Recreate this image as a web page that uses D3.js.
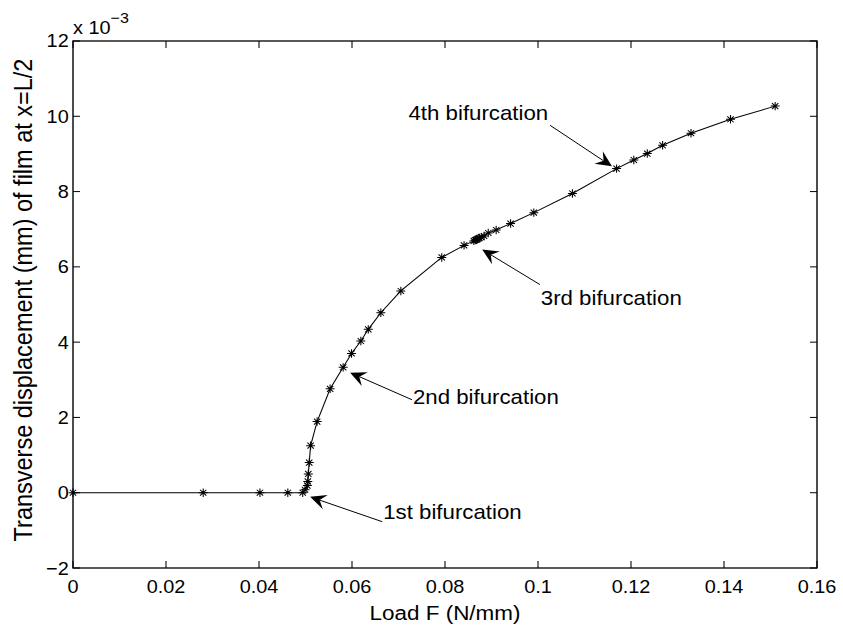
<!DOCTYPE html>
<html>
<head>
<meta charset="utf-8">
<script src="https://cdn.jsdelivr.net/npm/d3@7/dist/d3.min.js"></script>
<style>
  html, body { margin: 0; padding: 0; background: #fff; }
  svg { display: block; }
  text { font-family: "Liberation Sans", Arial, Helvetica, sans-serif; fill: #000; }
</style>
</head>
<body>
<svg id="chart" width="843" height="628"></svg>
<script>
// Load F (N/mm) at each computed equilibrium point
const loadF = [0, 0.0280, 0.0402, 0.0462, 0.0494, 0.0499, 0.0504, 0.0505, 0.0506, 0.0508,
  0.0511, 0.0525, 0.0553, 0.0581, 0.0599, 0.0619, 0.0635, 0.0662, 0.0705, 0.0793,
  0.0841, 0.0862, 0.0865, 0.0867, 0.0869, 0.0871, 0.0874, 0.0878, 0.0884, 0.0893,
  0.0910, 0.0941, 0.0991, 0.1074, 0.1169, 0.1206, 0.1235, 0.1268, 0.1329, 0.1414, 0.1510];
// Transverse displacement at x = L/2, in units of 1e-3 mm
const displacement = [0, 0, 0, 0, 0, 0.08, 0.19, 0.30, 0.50, 0.80,
  1.25, 1.89, 2.76, 3.33, 3.70, 4.03, 4.34, 4.78, 5.36, 6.25,
  6.57, 6.69, 6.71, 6.72, 6.73, 6.75, 6.77, 6.79, 6.82, 6.90,
  6.98, 7.15, 7.44, 7.95, 8.61, 8.84, 9.01, 9.23, 9.55, 9.92, 10.27];

const xTicks = [0, 0.02, 0.04, 0.06, 0.08, 0.1, 0.12, 0.14, 0.16];
const xTickLabels = ["0", "0.02", "0.04", "0.06", "0.08", "0.1", "0.12", "0.14", "0.16"];
const yTicks = [-2, 0, 2, 4, 6, 8, 10, 12];
const yTickLabels = ["\u22122", "0", "2", "4", "6", "8", "10", "12"];

// Bifurcation call-outs: arrow tip, arrow tail and text anchor, all in data units
const noteLabels = ["1st bifurcation", "2nd bifurcation", "3rd bifurcation", "4th bifurcation"];
const noteTipX  = [0.0510, 0.0596, 0.0880, 0.1159];
const noteTipY  = [-0.11, 3.19, 6.46, 8.67];
const noteTailX = [0.0665, 0.0729, 0.1004, 0.1026];
const noteTailY = [-0.77, 2.47, 5.53, 9.76];
const noteTextX = [0.0667, 0.0731, 0.1006, 0.1022];
const noteTextY = [-0.50, 2.55, 5.19, 10.10];
const noteAnchor = ["start", "start", "start", "end"];

const W = 843, H = 628;
// the figure is laid out in a slightly narrower space and widened horizontally
const SX = 1.07;
const svg = d3.select("#chart");
const root = svg.append("g").attr("transform", `scale(${SX},1)`);

const x = d3.scaleLinear().domain([0, 0.16]).range([73 / SX, 817 / SX]);
const y = d3.scaleLinear().domain([-2, 12]).range([568, 41]);

const tickFont = 18.6, noteFont = 20.8, xLabelFont = 21, yLabelFont = 23.5;

// frame
root.append("rect")
  .attr("x", x(0)).attr("y", y(12))
  .attr("width", x(0.16) - x(0)).attr("height", y(-2) - y(12))
  .attr("fill", "none").attr("stroke", "#000").attr("stroke-width", 1.3);

// inward ticks on all four sides
const tickLen = 7;
const tickG = root.append("g").attr("stroke", "#000").attr("stroke-width", 1);
xTicks.forEach(v => {
  tickG.append("line").attr("x1", x(v)).attr("x2", x(v)).attr("y1", y(-2)).attr("y2", y(-2) - tickLen);
  tickG.append("line").attr("x1", x(v)).attr("x2", x(v)).attr("y1", y(12)).attr("y2", y(12) + tickLen);
});
yTicks.forEach(v => {
  tickG.append("line").attr("x1", x(0)).attr("x2", x(0) + tickLen / SX).attr("y1", y(v)).attr("y2", y(v));
  tickG.append("line").attr("x1", x(0.16)).attr("x2", x(0.16) - tickLen / SX).attr("y1", y(v)).attr("y2", y(v));
});

// tick labels
root.append("g").selectAll("text").data(xTicks).join("text")
  .attr("x", d => x(d)).attr("y", y(-2) + 25)
  .attr("text-anchor", "middle").attr("font-size", tickFont)
  .text((d, i) => xTickLabels[i]);
root.append("g").selectAll("text").data(yTicks).join("text")
  .attr("x", x(0) - 4).attr("y", d => y(d)).attr("dy", "0.35em")
  .attr("text-anchor", "end").attr("font-size", tickFont)
  .text((d, i) => yTickLabels[i]);

// exponent note
const expo = root.append("text").attr("x", x(0)).attr("y", y(12) - 7).attr("font-size", tickFont);
expo.append("tspan").text("x 10");
expo.append("tspan").attr("dy", -11).attr("font-size", 15).text("\u22123");

// axis titles
root.append("text")
  .attr("x", (x(0) + x(0.16)) / 2).attr("y", H - 8)
  .attr("text-anchor", "middle").attr("font-size", xLabelFont)
  .text("Load F (N/mm)");
root.append("text")
  .attr("transform", `translate(${23 / SX},300) rotate(-90)`)
  .attr("dy", "0.35em")
  .attr("text-anchor", "middle").attr("font-size", yLabelFont)
  .text("Transverse displacement (mm) of film at x=L/2");

// curve
const pts = loadF.map((f, i) => [f, displacement[i]]);
root.append("path")
  .datum(pts)
  .attr("d", d3.line().x(d => x(d[0])).y(d => y(d[1])))
  .attr("fill", "none").attr("stroke", "#000").attr("stroke-width", 1);

// asterisk markers
const r = 4.2, rd = r * Math.SQRT1_2;
const star = `M${-r},0L${r},0M0,${-r}L0,${r}M${-rd},${-rd}L${rd},${rd}M${-rd},${rd}L${rd},${-rd}`;
root.append("g").selectAll("path").data(pts).join("path")
  .attr("transform", d => `translate(${x(d[0])},${y(d[1])})`)
  .attr("d", star).attr("fill", "none").attr("stroke", "#000").attr("stroke-width", 1);

// call-out arrows with notched heads, drawn in page pixels
const notes = svg.append("g");
noteLabels.forEach((lab, i) => {
  const x1 = x(noteTailX[i]) * SX, y1 = y(noteTailY[i]);
  const x2 = x(noteTipX[i]) * SX, y2 = y(noteTipY[i]);
  const ang = Math.atan2(y2 - y1, x2 - x1);
  const L = 16, Wd = 7.5, notch = 10;
  const c = Math.cos(ang), s = Math.sin(ang);
  const pt = (u, v) => [x2 + u * c - v * s, y2 + u * s + v * c];
  const a = pt(-L, -Wd), b = pt(-notch, 0), e = pt(-L, Wd);
  notes.append("line").attr("x1", x1).attr("y1", y1).attr("x2", b[0]).attr("y2", b[1])
    .attr("stroke", "#000").attr("stroke-width", 1);
  notes.append("path")
    .attr("d", `M${x2},${y2}L${a[0]},${a[1]}L${b[0]},${b[1]}L${e[0]},${e[1]}Z`)
    .attr("fill", "#000");
});
root.append("g").selectAll("text").data(noteLabels).join("text")
  .attr("x", (d, i) => x(noteTextX[i])).attr("y", (d, i) => y(noteTextY[i])).attr("dy", "0.35em")
  .attr("text-anchor", (d, i) => noteAnchor[i]).attr("font-size", noteFont)
  .text(d => d);
</script>
</body>
</html>
